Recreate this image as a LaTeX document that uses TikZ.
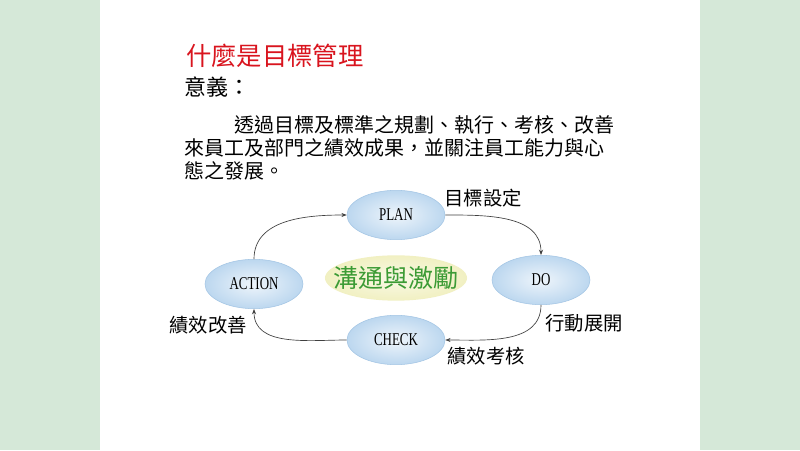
\documentclass[tikz,border=0pt]{standalone}
\usepackage{fontspec}
\usepackage{xcolor}
\usepackage{tikz}
\setmainfont{Liberation Serif}
\newfontfamily\cjk{Noto Sans CJK TC}
\usetikzlibrary{shapes.geometric,arrows.meta}
\definecolor{bggreen}{HTML}{D5E8D8}
\definecolor{titlered}{HTML}{D9141E}
\definecolor{ellblue}{HTML}{BCD7EF}
\definecolor{ellline}{HTML}{A3C5E4}
\definecolor{talkgreen}{HTML}{3C9B35}
\definecolor{talkyellow}{HTML}{F1F0C2}
\newcommand{\narrowtext}[1]{\scalebox{0.72}[1]{#1}}
\tikzset{
  phase/.style={ellipse, draw=ellline, inner color=white!75!ellblue, outer color=ellblue,
    minimum width=73.5pt, minimum height=37pt, inner sep=0pt, font=\fontsize{13.5}{14}\selectfont},
  cyclearrow/.style={-{Stealth[length=4pt,width=3pt]}, draw=black!75, line width=0.5pt},
  steplabel/.style={font=\cjk\fontsize{14.5}{16}\selectfont, inner sep=0pt},
  textline/.style={anchor=base west, inner sep=0pt, font=\cjk\fontsize{15}{18}\selectfont},
}

\begin{document}
\begin{tikzpicture}[x=0.75pt,y=0.75pt]
    \useasboundingbox (0,0) rectangle (800,450);
    \fill[bggreen] (0,0) rectangle (800,450);
    \fill[white] (100,0) rectangle (700,450);
    % heading and text
    \node[anchor=base west, inner sep=0pt, text=titlered, font=\cjk\fontsize{19}{22}\selectfont] (title) at (186,384) {什麼是目標管理};
    \node[anchor=base west, inner sep=0pt, font=\cjk\fontsize{16.5}{20}\selectfont] (meaning) at (184,354.6) {意義：};
    \node[textline] (line1) at (234,317.4) {透過目標及標準之規劃、執行、考核、改善};
    \node[textline] (line2) at (184,294.4) {來員工及部門之績效成果，並關注員工能力與心};
    \node[textline] (line3) at (184,271.4) {態之發展。};
    % cycle
    \node[ellipse, inner color=talkyellow!40, outer color=talkyellow, minimum height=34pt, inner xsep=-9.2pt, inner ysep=0pt,
      text=talkgreen, font=\cjk\fontsize{18.75}{20}\selectfont] (talk) at (396,172) {溝通與激勵};
    \node[phase] (plan) at (396,235) {\narrowtext{PLAN}};
    \node[phase] (do) at (541,170) {\narrowtext{DO}};
    \node[phase] (check) at (396,110) {\narrowtext{CHECK}};
    \node[phase] (action) at (254,166) {\narrowtext{ACTION}};
    \draw[cyclearrow] (action.north) to[out=90,in=180] (plan.west);
    \draw[cyclearrow] (plan.east) to[out=0,in=90] (do.north);
    \draw[cyclearrow] (do.south) to[out=-90,in=0] (check.east);
    \draw[cyclearrow] (check.west) to[out=180,in=-90] (action.south);
    \node[steplabel] (setgoal) at (483,252) {目標設定};
    \node[steplabel] (execute) at (584,127) {行動展開};
    \node[steplabel] (review) at (486,94) {績效考核};
    \node[steplabel] (improve) at (208,125) {績效改善};
\end{tikzpicture}
\end{document}
